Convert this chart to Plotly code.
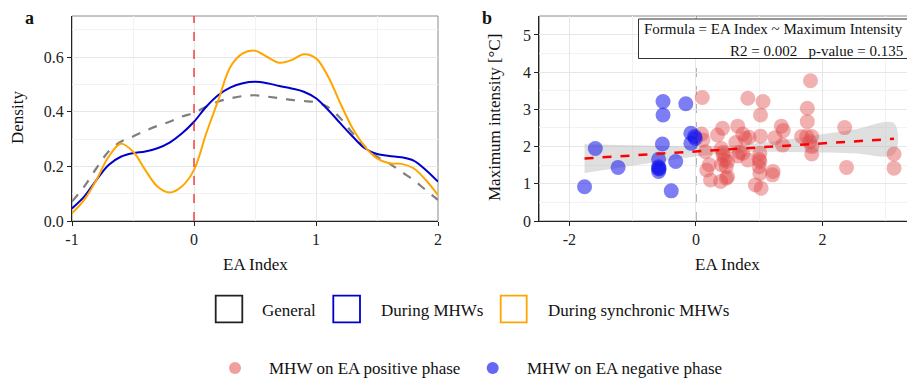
import plotly.graph_objects as go

# ---------------- Data ----------------
# Panel a: density curves of EA index
dens_x = [-1.0, -0.9, -0.8, -0.7, -0.6, -0.5, -0.4, -0.3, -0.2, -0.1, 0.0,
          0.1, 0.2, 0.3, 0.4, 0.5, 0.6, 0.7, 0.8, 0.9, 1.0,
          1.1, 1.2, 1.3, 1.4, 1.5, 1.6, 1.7, 1.8, 1.9, 2.0]
dens_general = [0.071, 0.126, 0.193, 0.254, 0.290, 0.309, 0.330, 0.348, 0.363, 0.382, 0.396,
                0.418, 0.437, 0.449, 0.457, 0.460, 0.455, 0.449, 0.443, 0.439, 0.434,
                0.416, 0.376, 0.321, 0.272, 0.235, 0.211, 0.180, 0.150, 0.113, 0.077]
dens_mhw = [0.046, 0.089, 0.150, 0.205, 0.235, 0.248, 0.254, 0.266, 0.287, 0.320, 0.363,
            0.418, 0.461, 0.489, 0.504, 0.509, 0.504, 0.494, 0.485, 0.473, 0.449,
            0.406, 0.357, 0.309, 0.266, 0.245, 0.238, 0.233, 0.221, 0.187, 0.144]
dens_sync = [0.028, 0.077, 0.150, 0.235, 0.283, 0.254, 0.187, 0.126, 0.104, 0.126, 0.187,
             0.320, 0.443, 0.565, 0.613, 0.623, 0.600, 0.579, 0.589, 0.610, 0.595,
             0.528, 0.430, 0.339, 0.272, 0.229, 0.211, 0.209, 0.193, 0.150, 0.095]

# Panel b: scatter of EA index vs maximum intensity
neg_x = [-1.76, -1.59, -1.23, -0.52, -0.52, -0.53, -0.59, -0.59, -0.59, -0.58, -0.59,
         -0.32, -0.39, -0.16, -0.08, -0.08, -0.02, -0.01]
neg_y = [0.92, 1.95, 1.44, 3.21, 2.85, 2.07, 1.66, 1.46, 1.42, 1.40, 1.33,
         1.60, 0.81, 3.15, 2.36, 2.09, 2.27, 2.22]
pos_x = [0.10, 0.09, 0.11, 0.15, 0.17, 0.21, 0.23, 0.34, 0.42, 0.40, 0.43, 0.40, 0.39,
         0.45, 0.48, 0.50, 0.48, 0.66, 0.63, 0.66, 0.74, 0.74, 0.82, 0.84, 0.82, 0.94,
         1.03, 1.06, 1.02, 1.02, 1.01, 1.01, 1.00, 1.01, 1.25, 1.22, 1.21, 1.35, 1.38,
         1.37, 1.67, 1.76, 1.76, 1.81, 1.75, 1.83, 1.83, 1.83, 1.80, 2.35, 2.38, 3.13, 3.13,
         0.43, 0.50, 0.69, 0.78, 1.00]
pos_y = [3.32, 2.34, 2.18, 1.86, 1.37, 1.51, 1.10, 2.31, 2.49, 1.95, 1.77, 1.51, 1.06,
         1.64, 1.46, 1.19, 1.15, 2.55, 2.11, 1.75, 2.34, 1.82, 3.30, 2.25, 1.64, 0.97,
         0.88, 3.21, 2.85, 2.28, 1.82, 1.60, 1.46, 1.28, 2.24, 1.33, 1.24, 2.55, 2.43,
         2.04, 2.27, 3.03, 2.67, 3.77, 2.27, 2.27, 2.00, 1.80, 2.13, 2.51, 1.44, 1.80, 1.42,
         1.84, 1.60, 1.85, 2.22, 1.66]

# Regression line and confidence band
fit_x = [-1.76, -1.5, -1.0, -0.5, 0.0, 0.5, 1.0, 1.5, 2.0, 2.5, 3.13]
fit_y = [1.680, 1.708, 1.762, 1.816, 1.870, 1.924, 1.978, 2.032, 2.086, 2.140, 2.208]
fit_lo = [1.290, 1.358, 1.488, 1.614, 1.731, 1.823, 1.859, 1.857, 1.841, 1.821, 1.792]
fit_hi = [2.070, 2.058, 2.036, 2.018, 2.009, 2.025, 2.097, 2.207, 2.331, 2.459, 2.624]

# Tick labels
a_xticks = [-1, 0, 1, 2]
a_xticktext = ["-1", "0", "1", "2"]
a_yticks = [0.0, 0.2, 0.4, 0.6]
a_yticktext = ["0.0", "0.2", "0.4", "0.6"]
b_xticks = [-2, 0, 2]
b_xticktext = ["-2", "0", "2"]
b_yticks = [0, 1, 2, 3, 4, 5]

density_names = ["General", "During MHWs", "During synchronic MHWs"]
point_names = ["MHW on EA positive phase", "MHW on EA negative phase"]

# ---------------- Styling ----------------
W, H = 907, 379
FONT = "Liberation Serif, Times New Roman, serif"
C_GEN = "#7f7f7f"
C_MHW = "#0000CD"
C_SYN = "#FFA500"
C_POS = "rgba(225,70,70,0.42)"
C_NEG = "rgba(20,20,235,0.55)"
C_POS_KEY = "rgb(238,160,160)"
C_NEG_KEY = "rgb(102,102,242)"

def px(x):
    return x / W

def py(y):
    return 1 - y / H

fig = go.Figure()

# Panel a traces
fig.add_trace(go.Scatter(x=dens_x, y=dens_general, mode="lines", line=dict(color=C_GEN, width=2.2, dash="dash", shape="spline"),
                         name=density_names[0], showlegend=False, xaxis="x", yaxis="y"))
fig.add_trace(go.Scatter(x=dens_x, y=dens_mhw, mode="lines", line=dict(color=C_MHW, width=2, shape="spline"),
                         name=density_names[1], showlegend=False, xaxis="x", yaxis="y"))
fig.add_trace(go.Scatter(x=dens_x, y=dens_sync, mode="lines", line=dict(color=C_SYN, width=2, shape="spline"),
                         name=density_names[2], showlegend=False, xaxis="x", yaxis="y"))

# Panel b traces
fig.add_trace(go.Scatter(x=fit_x + fit_x[::-1], y=fit_hi + fit_lo[::-1], fill="toself",
                         fillcolor="rgba(185,185,185,0.45)", line=dict(width=0, shape="spline"),
                         hoverinfo="skip", showlegend=False, xaxis="x2", yaxis="y2"))
fig.add_trace(go.Scatter(x=pos_x, y=pos_y, mode="markers", marker=dict(size=15, color=C_POS, line=dict(width=0)),
                         name=point_names[0], showlegend=False, xaxis="x2", yaxis="y2"))
fig.add_trace(go.Scatter(x=neg_x, y=neg_y, mode="markers", marker=dict(size=15, color=C_NEG, line=dict(width=0)),
                         name=point_names[1], showlegend=False, xaxis="x2", yaxis="y2"))
fig.add_trace(go.Scatter(x=[fit_x[0], fit_x[-1]], y=[fit_y[0], fit_y[-1]], mode="lines",
                         line=dict(color="#FF0000", width=2.5, dash="dash"), showlegend=False,
                         xaxis="x2", yaxis="y2"))

ydom = [py(221), py(16)]
grid_major = "#E6E6E6"
grid_minor = "#F2F2F2"
tickfont = dict(family=FONT, size=16, color="#222")

common_axis = dict(showline=True, linecolor="#222", linewidth=1.2, ticks="outside", ticklen=4,
                   tickcolor="#222", tickfont=tickfont, showgrid=True, gridcolor=grid_major,
                   gridwidth=1, zeroline=False, automargin=False)

fig.update_layout(
    width=W, height=H,
    margin=dict(l=0, r=0, t=0, b=0, pad=0),
    paper_bgcolor="white", plot_bgcolor="white",
    font=dict(family=FONT, color="#222"),
    showlegend=False,
    xaxis=dict(domain=[px(72), px(438)], range=[-1, 2], tickvals=a_xticks, ticktext=a_xticktext,
               minor=dict(dtick=0.5, showgrid=True, gridcolor=grid_minor), anchor="y", **common_axis),
    yaxis=dict(domain=ydom, range=[0, 0.75], tickvals=a_yticks, ticktext=a_yticktext,
               minor=dict(dtick=0.1, showgrid=True, gridcolor=grid_minor), anchor="x", **common_axis),
    xaxis2=dict(domain=[px(539.3), 1.0], range=[-2.475, 3.335], tickvals=b_xticks, ticktext=b_xticktext,
                minor=dict(dtick=1, showgrid=True, gridcolor=grid_minor), anchor="y2", **common_axis),
    yaxis2=dict(domain=ydom, range=[0, 5.51], tickvals=b_yticks,
                minor=dict(dtick=0.5, showgrid=True, gridcolor=grid_minor), anchor="x2", **common_axis),
)

shapes = []
# panel frames (gray top/right)
shapes.append(dict(type="rect", xref="x domain", yref="y domain", x0=0, x1=1, y0=0, y1=1,
                   line=dict(color="#8a8a8a", width=1), layer="below"))
shapes.append(dict(type="rect", xref="x2 domain", yref="y2 domain", x0=0, x1=1.05, y0=0, y1=1,
                   line=dict(color="#8a8a8a", width=1), layer="below"))
# vertical reference lines at 0
shapes.append(dict(type="line", xref="x", yref="y domain", x0=0, x1=0, y0=0, y1=1,
                   line=dict(color="#FF1010", width=1.2, dash="dash")))
shapes.append(dict(type="line", xref="x2", yref="y2 domain", x0=0, x1=0, y0=0, y1=1,
                   line=dict(color="#555555", width=1, dash="dash"), layer="below"))
# formula box
x0b, x1b, y0b, y1b = px(638.5), px(915), py(19), py(58.5)
shapes.append(dict(type="rect", xref="paper", yref="paper", x0=x0b, x1=x1b, y0=y1b, y1=y0b,
                   line=dict(color="#333", width=1), fillcolor="white"))

# legend row 1: open squares
sq = [(215.7, 242.3, "#222"), (333.3, 360.0, C_MHW), (500.7, 526.7, C_SYN)]
for (a, b, c) in sq:
    shapes.append(dict(type="rect", xref="paper", yref="paper", x0=px(a), x1=px(b), y0=py(322.3), y1=py(295.7),
                       line=dict(color=c, width=1.8), fillcolor="rgba(0,0,0,0)"))
# legend row 2: circles
for (cx, c) in [(235.0, C_POS_KEY), (492.7, C_NEG_KEY)]:
    shapes.append(dict(type="circle", xref="paper", yref="paper", x0=px(cx - 6), x1=px(cx + 6),
                       y0=py(374), y1=py(362), line=dict(width=0), fillcolor=c))
fig.update_layout(shapes=shapes)

ann = []
def text(x, y, s, size=17, xanchor="center", yanchor="middle", angle=0, bold=False):
    ann.append(dict(x=px(x), y=py(y), xref="paper", yref="paper", text=("<b>%s</b>" % s) if bold else s,
                    showarrow=False, xanchor=xanchor, yanchor=yanchor, textangle=angle,
                    font=dict(family=FONT, size=size, color="#111")))

text(29, 18, "a", size=18, bold=True)
text(487, 18, "b", size=18, bold=True)
text(18, 118, "Density", size=17, angle=-90)
text(495, 118, "Maximum intensity [°C]", size=17, angle=-90)
text(255, 264, "EA Index", size=17)
text(727.7, 264, "EA Index", size=17)
text(905, 28.5, "Formula = EA Index ~ Maximum Intensity", size=15, xanchor="right")
text(905, 50.5, "R2 = 0.002   p-value = 0.135", size=15, xanchor="right")
text(260, 310, density_names[0], size=17, xanchor="left")
text(379, 310, density_names[1], size=17, xanchor="left")
text(545.7, 310, density_names[2], size=17, xanchor="left")
text(266.7, 368, point_names[0], size=17, xanchor="left")
text(525, 368, point_names[1], size=17, xanchor="left")
fig.update_layout(annotations=ann)

# remove the default page margin so the figure fills the window exactly
fig.write_html("out.html", config={"displayModeBar": False},
               post_script="document.body.style.margin='0';document.body.style.overflow='hidden';")
